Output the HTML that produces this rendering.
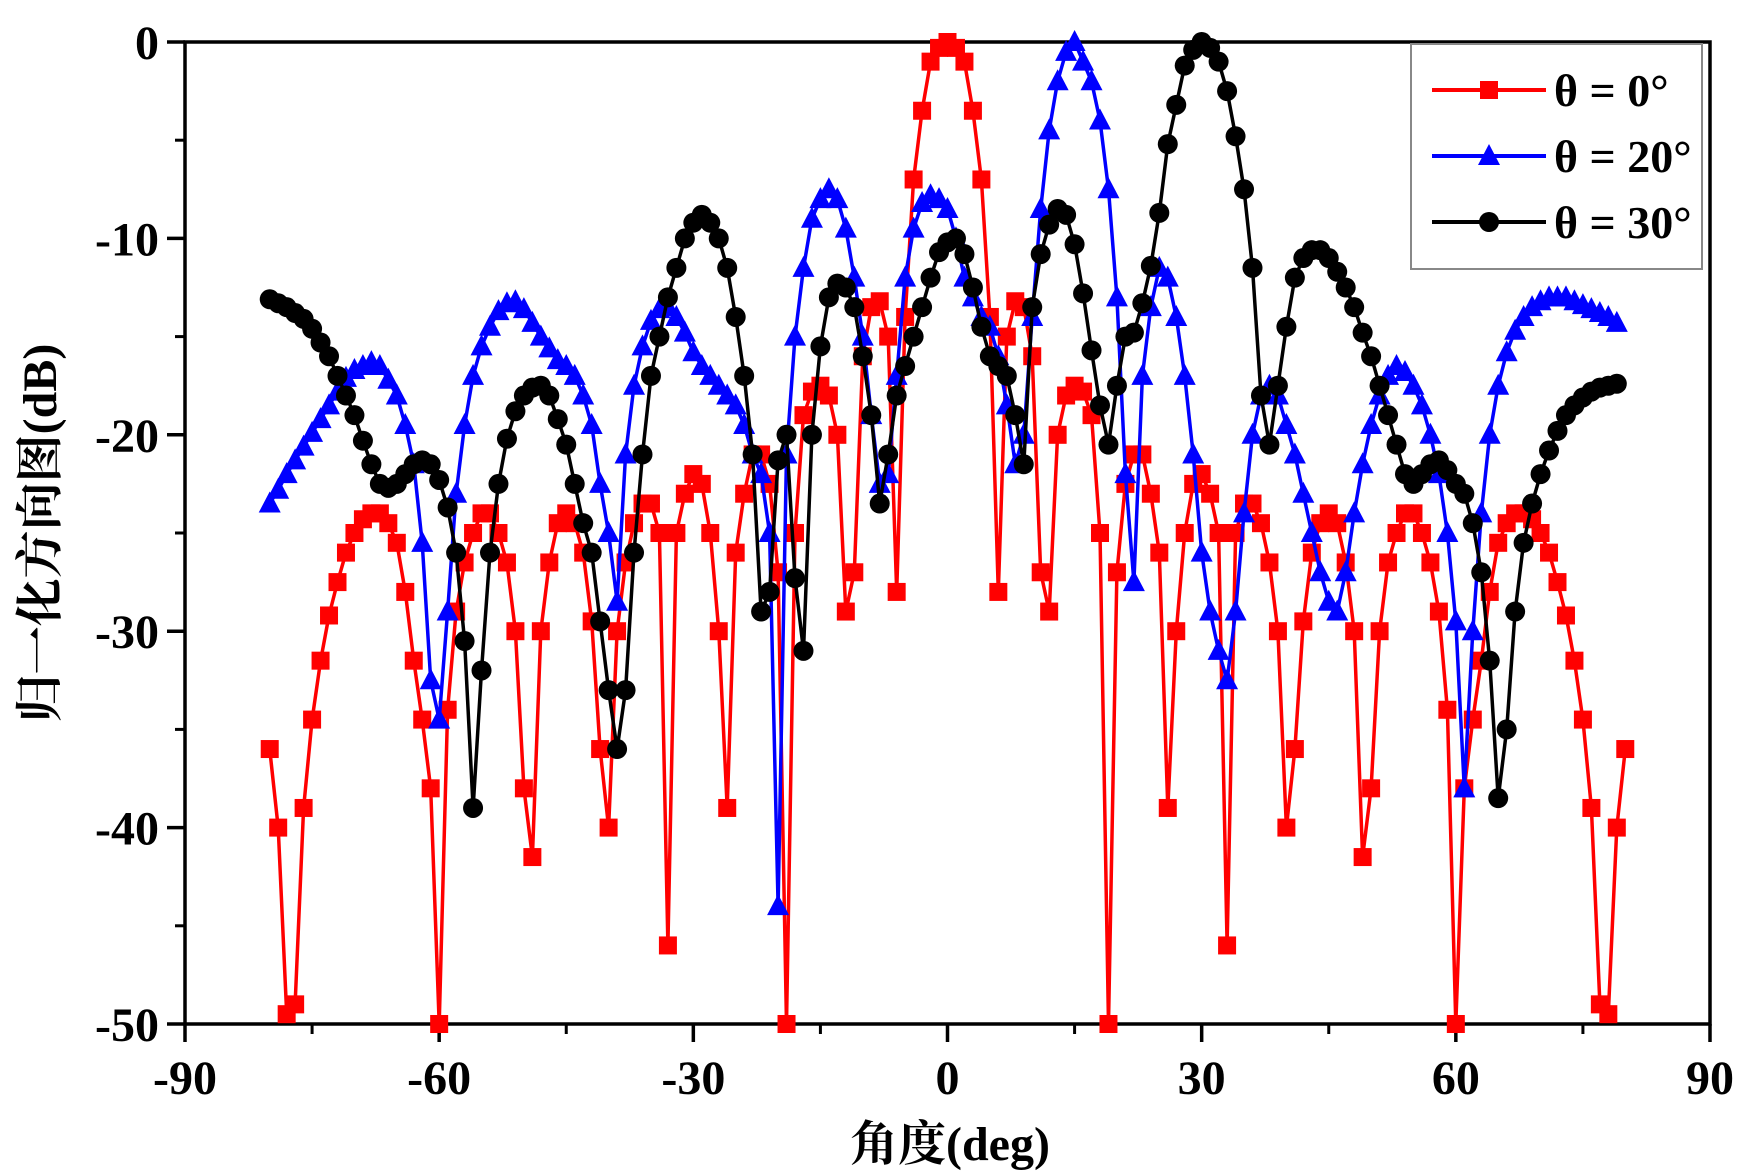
<!DOCTYPE html>
<html><head><meta charset="utf-8"><style>
html,body{margin:0;padding:0;background:#fff;}
svg{display:block;}
text{font-family:"Liberation Serif","Noto Serif CJK SC",serif;}
</style></head><body>
<svg id="chart" width="1741" height="1172" viewBox="0 0 1741 1172">
<g id="axes"></g>
<g id="series"></g>
<g id="legend"></g>
</svg>
<script>
const xTicks=[-90,-60,-30,0,30,60,90];
const yTicks=[0,-10,-20,-30,-40,-50];
const angles=[];for(let a=-80;a<=80;a++)angles.push(a);
// theta = 0 deg (red), values at 0..80, mirrored
const redHalf=[0,-0.3,-1,-3.5,-7,-14,-28,-15,-13.2,-13.5,-16,-27,-29,-20,-18,-17.5,-17.8,-19,-25,-50,-27,-22.5,-21,-21,-23,-26,-39,-30,-25,-22.5,-22,-23,-25,-46,-25,-23.5,-23.5,-24.5,-26.5,-30,-40,-36,-29.5,-26,-24.5,-24,-24.5,-26.5,-30,-41.5,-38,-30,-26.5,-25,-24,-24,-25,-26.5,-29,-34,-50,-38,-34.5,-31.5,-28,-25.5,-24.5,-24,-24,-24.3,-25,-26,-27.5,-29.2,-31.5,-34.5,-39,-49,-49.5,-40,-36];
const red=[];for(let i=80;i>0;i--)red.push(redHalf[i]);for(let i=0;i<=80;i++)red.push(redHalf[i]);
// theta = 20 deg (blue), -80..80
const blue=[-23.5,-22.8,-22,-21.3,-20.6,-19.9,-19.2,-18.5,-17.8,-17.1,-16.7,-16.5,-16.3,-16.5,-17.2,-18,-19.5,-21.5,-25.5,-32.5,-34.5,-29,-23,-19.5,-17,-15.5,-14.5,-13.7,-13.3,-13.2,-13.6,-14.3,-15,-15.6,-16.2,-16.5,-17,-18,-19.5,-22.5,-25,-28.5,-21,-17.5,-15.5,-14.2,-13.6,-13.5,-14,-14.8,-15.8,-16.5,-17,-17.5,-18,-18.5,-19.5,-21,-22,-25,-44,-21,-15,-11.5,-9,-8,-7.5,-8,-9.5,-12,-15,-19,-22.5,-22,-17,-12,-9.5,-8.2,-7.8,-8,-8.5,-10,-12,-13,-14,-14.5,-16,-18.5,-21.5,-20,-14,-8.5,-4.5,-2,-0.5,0,-1,-2,-4,-7.5,-13,-22,-27.5,-17,-13.5,-11.5,-12,-14,-17,-21,-26,-29,-31,-32.5,-29,-24,-20,-18,-17.5,-18,-19.5,-21,-23,-25,-27,-28.5,-29,-27,-24,-21.5,-19.5,-18,-17,-16.5,-16.8,-17.5,-18.5,-20,-22,-25,-29.5,-38,-30,-24,-20,-17.5,-15.8,-14.7,-14,-13.5,-13.2,-13,-13,-13,-13.2,-13.4,-13.6,-13.8,-14,-14.3];
// theta = 30 deg (black), -80..80
const black=[-13.1,-13.3,-13.5,-13.8,-14.1,-14.6,-15.3,-16,-17,-18,-19,-20.3,-21.5,-22.5,-22.7,-22.5,-22,-21.5,-21.3,-21.5,-22.3,-23.7,-26,-30.5,-39,-32,-26,-22.5,-20.2,-18.8,-18,-17.6,-17.5,-18,-19.2,-20.5,-22.5,-24.5,-26,-29.5,-33,-36,-33,-26,-21,-17,-15,-13,-11.5,-10,-9.2,-8.8,-9.2,-10,-11.5,-14,-17,-21,-29,-28,-21.3,-20,-27.3,-31,-20,-15.5,-13,-12.3,-12.5,-13.5,-16,-19,-23.5,-21,-18,-16.5,-15,-13.5,-12,-10.7,-10.2,-10,-10.8,-12.5,-14.5,-16,-16.5,-17,-19,-21.5,-13.5,-10.8,-9.3,-8.5,-8.8,-10.3,-12.8,-15.7,-18.5,-20.5,-17.5,-15,-14.8,-13.3,-11.4,-8.7,-5.2,-3.2,-1.2,-0.4,0,-0.3,-1,-2.5,-4.8,-7.5,-11.5,-18,-20.5,-17.5,-14.5,-12,-11,-10.6,-10.6,-11,-11.7,-12.5,-13.5,-14.8,-16,-17.5,-19,-20.5,-22,-22.5,-22,-21.5,-21.3,-21.8,-22.5,-23,-24.5,-27,-31.5,-38.5,-35,-29,-25.5,-23.5,-22,-20.8,-19.8,-19,-18.5,-18.1,-17.8,-17.6,-17.5,-17.4];

const X0=185,X1=1710,Y0=42,Y1=1024;
function xs(d){return X0+(d+90)*(X1-X0)/180;}
function ys(v){return Y0+(-v)*(Y1-Y0)/50;}
const NS='http://www.w3.org/2000/svg';
function mk(tag,attrs,parent){const e=document.createElementNS(NS,tag);for(const k in attrs)e.setAttribute(k,attrs[k]);parent.appendChild(e);return e;}
const axes=document.getElementById('axes');
const series=document.getElementById('series');
const legend=document.getElementById('legend');

let fr=mk('rect',{x:X0,y:Y0,width:X1-X0,height:Y1-Y0,fill:'none',stroke:'#000','stroke-width':3.5},axes);


xTicks.forEach(t=>{
  const l=mk('line',{x1:xs(t),x2:xs(t),y1:Y1,y2:Y1+18,stroke:'#000','stroke-width':3.5},axes);
  
  
  const tx=mk('text',{x:xs(t),y:Y1+70,'text-anchor':'middle','font-size':48,'font-weight':'bold'},axes);
  tx.textContent=t;
  
  
});
for(let t=-75;t<90;t+=30){
  const l=mk('line',{x1:xs(t),x2:xs(t),y1:Y1,y2:Y1+10,stroke:'#000','stroke-width':3},axes);
  
  
}
yTicks.forEach(t=>{
  const l=mk('line',{x1:X0-18,x2:X0,y1:ys(t),y2:ys(t),stroke:'#000','stroke-width':3.5},axes);
  
  
  const tx=mk('text',{x:X0-26,y:ys(t)+17,'text-anchor':'end','font-size':48,'font-weight':'bold'},axes);
  tx.textContent=t;
  
  
});
for(let t=-5;t>-50;t-=10){
  const l=mk('line',{x1:X0-10,x2:X0,y1:ys(t),y2:ys(t),stroke:'#000','stroke-width':3},axes);
  
  
}
const xt=mk('text',{x:950,y:1160,'text-anchor':'middle','font-size':48,'font-weight':'bold'},axes);
xt.textContent='角度(deg)';


const yt=mk('text',{x:0,y:0,'text-anchor':'middle','font-size':48,'font-weight':'bold',transform:'translate(56,533) rotate(-90)'},axes);
yt.textContent='归一化方向图(dB)';



function marker(type,cx,cy,color,parent){
  let m;
  if(type==='sq') m=mk('rect',{x:cx-9,y:cy-9,width:18,height:18,fill:color},parent);
  else if(type==='tri') m=mk('polygon',{points:`${cx},${cy-12} ${cx-11},${cy+9} ${cx+11},${cy+9}`,fill:color},parent);
  else m=mk('circle',{cx:cx,cy:cy,r:10,fill:color},parent);
  return m;
}
const defs=[{vals:red,color:'#ff0000',m:'sq',name:'theta-0'},{vals:blue,color:'#0000ff',m:'tri',name:'theta-20'},{vals:black,color:'#000',m:'ci',name:'theta-30'}];
defs.forEach(s=>{
  const g=mk('g',{},series);
  
  
  const n=Math.min(angles.length,s.vals.length);
  const pts=[];
  for(let i=0;i<n;i++)pts.push(xs(angles[i]).toFixed(1)+','+ys(s.vals[i]).toFixed(1));
  const pl=mk('polyline',{points:pts.join(' '),fill:'none',stroke:s.color,'stroke-width':3.5,'stroke-linejoin':'round'},g);
  
  
  for(let i=0;i<n;i++){
    const m=marker(s.m,xs(angles[i]),ys(s.vals[i]),s.color,g);
    
    
  }
});

const lb=mk('rect',{x:1411,y:44,width:291,height:225,fill:'#fff',stroke:'#888','stroke-width':2},legend);


const labels=['θ = 0°','θ = 20°','θ = 30°'];
defs.forEach((s,i)=>{
  const y=90+i*66;
  const ln=mk('line',{x1:1432,x2:1546,y1:y,y2:y,stroke:s.color,'stroke-width':4},legend);
  
  
  const m=marker(s.m,1489,y,s.color,legend);
  
  
  const t=mk('text',{x:1554,y:y+16,'font-size':46,'font-weight':'bold'},legend);
  t.textContent=labels[i];
  
  
});
</script>
</body></html>
